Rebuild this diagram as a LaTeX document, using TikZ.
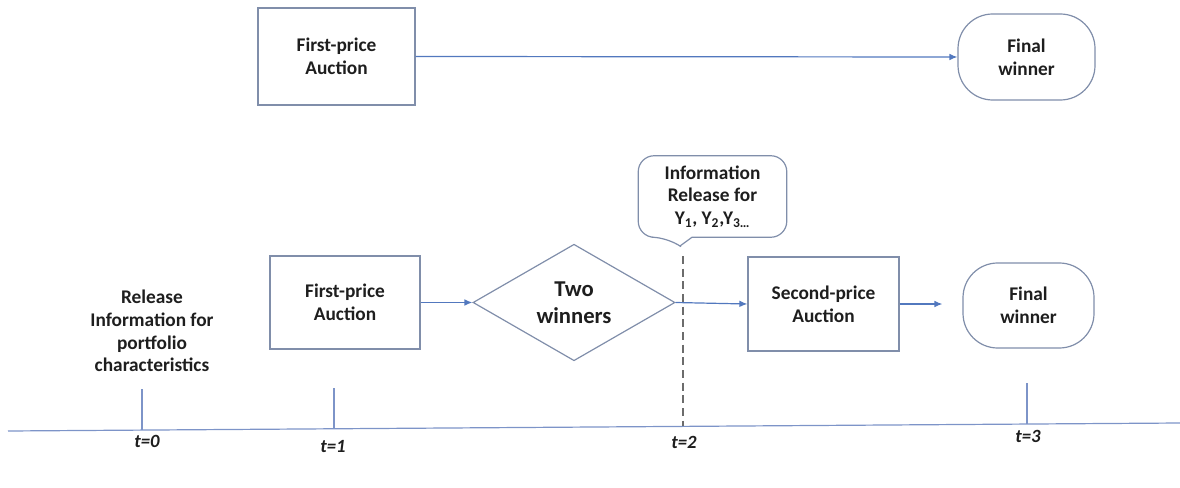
\documentclass[tikz,border=0pt]{standalone}
\usepackage{fontspec}
\setmainfont{Carlito}
\usetikzlibrary{shapes.geometric,arrows.meta}
\definecolor{boxline}{RGB}{128,142,170}
\definecolor{arrowblue}{RGB}{82,120,190}
\definecolor{axisblue}{RGB}{125,148,200}
\definecolor{txt}{RGB}{30,30,30}
\tikzset{
  lbl/.style={font=\fontsize{14.5}{17}\selectfont\bfseries, text=txt, align=center},
  boxnode/.style={lbl, draw=boxline, line width=0.9pt, rectangle},
  finalnode/.style={lbl, draw=boxline, line width=0.9pt, rectangle, rounded corners=26pt},
  diam/.style={draw=boxline, line width=0.9pt, diamond, font=\fontsize{17}{20}\selectfont\bfseries, text=txt, align=center},
  arr/.style={draw=arrowblue, line width=0.9pt, -{Latex[length=6pt,width=5pt]}},
  axis/.style={draw=axisblue, line width=0.9pt},
  tick/.style={draw=axisblue, line width=0.9pt},
  tlab/.style={font=\fontsize{14}{17}\selectfont\bfseries\itshape, text=txt},
}
\begin{document}
\begin{tikzpicture}[x=0.75pt,y=-0.75pt]
\useasboundingbox (0,0) rectangle (1180,488);
% top row
\node[boxnode, minimum width=117.75pt, minimum height=72.75pt] (fp1) at (336.5,56.5) {First-price\\Auction};
\node[finalnode, minimum width=102.75pt, minimum height=64.5pt] (fw1) at (1026.5,57) {Final\\winner};
\draw[arr] (fp1.east) -- (fw1.west);
% bottom row
\node[boxnode, minimum width=112.5pt, minimum height=69.75pt] (fp2) at (345,302.5) {First-price\\Auction};
\node[diam, minimum width=151.5pt, minimum height=75.75pt, inner sep=0pt] (tw) at (574,302.5) {Two\\winners};
\node[boxnode, minimum width=113.25pt, minimum height=70.5pt] (sp) at (823.5,304) {Second-price\\Auction};
\node[finalnode, minimum width=98.25pt, minimum height=63.75pt] (fw2) at (1028.5,305.5) {Final\\winner};
\draw[arr] (fp2.east) -- (tw.west);
\draw[arr] (tw.east) -- (sp.west);
\draw[arr, shorten >=15pt] (sp.east) -- (fw2.west |- sp.east);
% callout
\node[lbl, minimum width=111pt, minimum height=60.75pt, inner sep=2pt] (co) at (712.5,196.5) {Information\\Release for\\Y\textsubscript{1}, Y\textsubscript{2},Y\textsubscript{3…}};
\coordinate (cotip) at (680,246);
\coordinate (cobl) at (668,237.25);
\coordinate (cobr) at (692,237.25);
\draw[boxline, line width=0.9pt]
  (cotip) -- (cobr)
  [rounded corners=12pt] -- (co.south east) -- (co.north east) -- (co.north west) -- (co.south west) -- (cobl)
  [sharp corners] -- cycle;
% release text
\node[lbl, font=\fontsize{14.5}{17}\selectfont\bfseries] (rel) at (152,331) {Release\\Information for\\portfolio\\characteristics};
% timeline
\coordinate (ax0) at (8,431);
\coordinate (ax1) at (1180,423);
\draw[axis] (ax0) -- (ax1);
\coordinate (k0t) at (142,389); \coordinate (k0b) at (142,430.1);
\coordinate (k1t) at (334,388); \coordinate (k1b) at (334,428.8);
\coordinate (k3t) at (1027,383); \coordinate (k3b) at (1027,424);
\draw[tick] (k0t) -- (k0b);
\draw[tick] (k1t) -- (k1b);
\draw[tick] (k3t) -- (k3b);
\coordinate (d2t) at (683,256); \coordinate (d2b) at (683,426.4);
\draw[gray!85!black, line width=0.9pt, dash pattern=on 6pt off 3.5pt] (d2t) -- (d2b);
\node[tlab] (t0) at (147,441) {t=0};
\node[tlab] (t1) at (333,447) {t=1};
\node[tlab] (t2) at (684,442) {t=2};
\node[tlab] (t3) at (1028,436) {t=3};
\end{tikzpicture}
\end{document}
